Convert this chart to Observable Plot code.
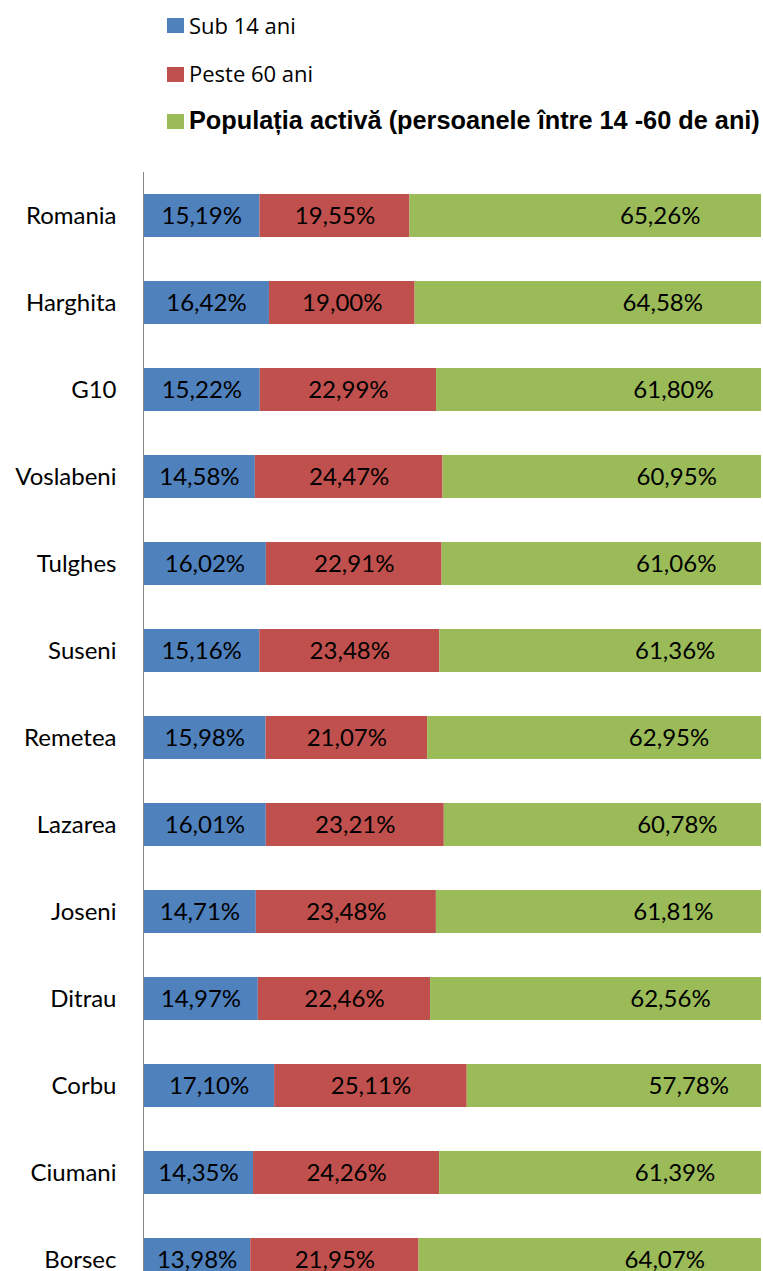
<!DOCTYPE html>
<html>
<head>
<meta charset="utf-8">
<script src="https://cdn.jsdelivr.net/npm/d3@7"></script>
<script src="https://cdn.jsdelivr.net/npm/@observablehq/plot@0.6"></script>
<style>
  html, body { margin: 0; padding: 0; background: white; overflow: hidden; }
  #legend { position: relative; width: 763px; height: 160px; }
  .sw { position: absolute; left: 167px; width: 17px; height: 15px; }
  .lt { position: absolute; left: 189px; white-space: nowrap; color: #000; }
</style>
</head>
<body>
<div id="legend"></div>
<div id="chart"></div>
<script>
const categories = ["Romania", "Harghita", "G10", "Voslabeni", "Tulghes", "Suseni", "Remetea", "Lazarea", "Joseni", "Ditrau", "Corbu", "Ciumani", "Borsec"];
const groups = ["Sub 14 ani", "Peste 60 ani", "Populația activă (persoanele între 14 -60 de ani)"];
const colors = ["#4F81BD", "#C0504D", "#9BBB59"];
const sub14 = [15.19, 16.42, 15.22, 14.58, 16.02, 15.16, 15.98, 16.01, 14.71, 14.97, 17.10, 14.35, 13.98];
const peste60 = [19.55, 19.00, 22.99, 24.47, 22.91, 23.48, 21.07, 23.21, 23.48, 22.46, 25.11, 24.26, 21.95];
const activa = [65.26, 64.58, 61.80, 60.95, 61.06, 61.36, 62.95, 60.78, 61.81, 62.56, 57.78, 61.39, 64.07];

const series = [sub14, peste60, activa];
const data = [];
categories.forEach((name, i) => {
  groups.forEach((g, j) => data.push({name, group: g, value: series[j][i]}));
});
const fmt = v => v.toFixed(2).replace(".", ",") + "%";

// Legend
const legend = document.getElementById("legend");
const legendStyles = [
  {top: 18, tTop: 13.5, font: "22px 'Open Sans', sans-serif", lh: "22px"},
  {top: 67, tTop: 61.5, font: "22px 'Open Sans', sans-serif", lh: "22px"},
  {top: 114, tTop: 108, font: "bold 25.3px 'Liberation Sans', Arial, sans-serif", lh: "25px"}
];
groups.forEach((g, j) => {
  const s = document.createElement("div");
  s.className = "sw";
  s.style.top = legendStyles[j].top + "px";
  s.style.background = colors[j];
  legend.appendChild(s);
  const t = document.createElement("div");
  t.className = "lt";
  t.style.top = legendStyles[j].tTop + "px";
  t.style.font = legendStyles[j].font;
  t.style.lineHeight = legendStyles[j].lh;
  t.textContent = g;
  legend.appendChild(t);
});

const chart = Plot.plot({
  width: 761,
  height: 1111,
  marginLeft: 143,
  marginRight: 0,
  marginTop: 12,
  marginBottom: 0,
  style: {fontFamily: "Lato, sans-serif", fontSize: "24px", overflow: "hidden", background: "white"},
  x: {domain: [0, 80.58], axis: null},
  y: {domain: categories, range: [12, 1142.3], paddingInner: 0.503, paddingOuter: 0.2376, label: null},
  color: {domain: groups, range: colors},
  marks: [
    Plot.barX(data, Plot.stackX({x: "value", y: "name", fill: "group", z: "group", clip: true})),
    Plot.textX(data, Plot.stackX({x: "value", y: "name", z: "group", text: d => fmt(d.value), fill: "#000", fontSize: 24})),
    Plot.ruleX([0], {stroke: "#868686", strokeWidth: 1}),
    Plot.axisY({tickSize: 0, tickPadding: 27, fontSize: 24, fill: "#000", label: null})
  ]
});
document.getElementById("chart").appendChild(chart);
</script>
</body>
</html>
